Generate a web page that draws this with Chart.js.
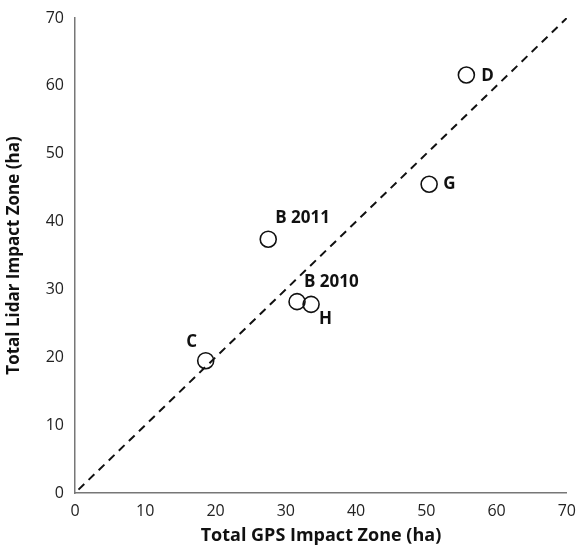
<!DOCTYPE html>
<html>
<head>
<meta charset="utf-8">
<script src="https://cdn.jsdelivr.net/npm/chart.js@4/dist/chart.umd.min.js"></script>
<style>
  html, body { margin: 0; padding: 0; background: #fff; }
  #wrap { width: 580px; height: 551px; }
</style>
</head>
<body>
<div id="wrap"><canvas id="chart"></canvas></div>
<script>
// site names and impact zones (ha)
const sites = ['C', 'B 2011', 'B 2010', 'H', 'G', 'D'];
const gpsZone = [18.6, 27.5, 31.6, 33.6, 50.4, 55.7];
const lidarZone = [19.5, 37.4, 28.2, 27.8, 45.5, 61.6];
// label offsets in px from the marker: [dx, dy, align]
const labelOffsets = [[-14, -19, 'center'], [7, -21, 'left'], [7, -19, 'left'], [8, 15, 'left'], [14, 0, 'left'], [15, 1, 'left']];
// 1:1 reference line
const lineX = [0.5, 70];
const lineY = [0.5, 70];
const ticks = [0, 10, 20, 30, 40, 50, 60, 70];

const fontFamily = '"Open Sans", "Noto Sans", sans-serif';

const pointLabels = {
    id: 'pointLabels',
    afterDatasetsDraw(chart) {
        const ctx = chart.ctx;
        const meta = chart.getDatasetMeta(1);
        ctx.save();
        ctx.font = 'bold 17px ' + fontFamily;
        ctx.fillStyle = '#111';
        ctx.textBaseline = 'middle';
        meta.data.forEach((pt, i) => {
            const [dx, dy, align] = labelOffsets[i];
            ctx.textAlign = align;
            ctx.fillText(sites[i], pt.x + dx, pt.y + dy);
        });
        ctx.restore();
    }
};

new Chart(document.getElementById('chart'), {
    type: 'scatter',
    data: {
        datasets: [{
            type: 'line',
            data: lineX.map((x, i) => ({ x: x, y: lineY[i] })),
            borderColor: '#111',
            borderWidth: 2,
            borderDash: [8, 6],
            pointRadius: 0,
            fill: false
        }, {
            data: gpsZone.map((x, i) => ({ x: x, y: lidarZone[i] })),
            pointRadius: 8,
            pointBorderWidth: 1.6,
            pointBorderColor: '#111',
            pointBackgroundColor: 'rgba(255,255,255,0)'
        }]
    },
    options: {
        responsive: true,
        maintainAspectRatio: false,
        animation: false,
        layout: { padding: { top: 18, right: 0, left: 0, bottom: 0 } },
        plugins: { legend: { display: false }, tooltip: { enabled: false } },
        scales: {
            x: {
                type: 'linear', min: 0, max: 70,
                afterBuildTicks: s => { s.ticks = ticks.map(v => ({ value: v })); },
                afterFit: s => { s.height = 58; },
                grid: { display: false, drawOnChartArea: false, drawTicks: true, tickLength: 5, tickColor: '#777' },
                border: { color: '#777', width: 1.5 },
                ticks: { color: '#222', font: { family: fontFamily, size: 16 }, padding: 4 },
                title: { display: true, text: 'Total GPS Impact Zone (ha)', color: '#111',
                         font: { family: fontFamily, size: 18, weight: 'bold' }, padding: { top: 2 } }
            },
            y: {
                type: 'linear', min: 0, max: 70,
                afterBuildTicks: s => { s.ticks = ticks.map(v => ({ value: v })); },
                afterFit: s => { s.width = 75; },
                grid: { display: false, drawOnChartArea: false, drawTicks: true, tickLength: 5, tickColor: '#777' },
                border: { color: '#777', width: 1.5 },
                ticks: { color: '#222', font: { family: fontFamily, size: 16 }, padding: 6 },
                title: { display: true, text: 'Total Lidar Impact Zone (ha)', color: '#111',
                         font: { family: fontFamily, size: 17, weight: 'bold' }, padding: { bottom: 0 } }
            }
        }
    },
    plugins: [pointLabels]
});
</script>
</body>
</html>
